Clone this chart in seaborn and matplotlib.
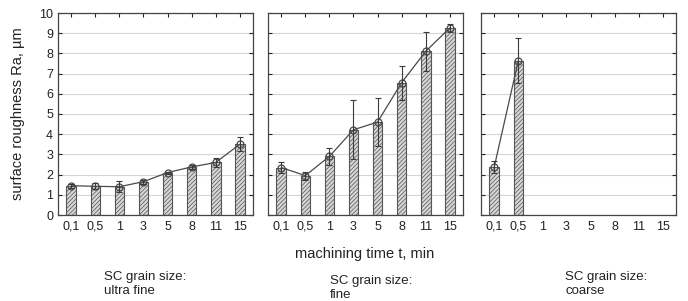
import numpy as np
import pandas as pd
import seaborn as sns
import matplotlib.pyplot as plt

times = ['0,1', '0,5', '1', '3', '5', '8', '11', '15']

ultra_fine_mean = [1.45, 1.42, 1.40, 1.65, 2.10, 2.38, 2.60, 3.50]
ultra_fine_err = [0.10, 0.15, 0.28, 0.10, 0.05, 0.08, 0.20, 0.35]

fine_mean = [2.35, 1.95, 2.90, 4.22, 4.60, 6.55, 8.10, 9.26]
fine_err = [0.28, 0.20, 0.40, 1.45, 1.20, 0.85, 0.95, 0.20]

coarse_times = ['0,1', '0,5']
coarse_mean = [2.38, 7.64]
coarse_err = [0.30, 1.10]

captions = ['SC grain size:\nultra fine', 'SC grain size:\nfine', 'SC grain size:\ncoarse']

sns.set_style('white')
plt.rcParams['font.family'] = ['Liberation Sans', 'DejaVu Sans']
plt.rcParams['hatch.color'] = '#a9a9a9'
plt.rcParams['hatch.linewidth'] = 0.5

fig = plt.figure(figsize=(6.88, 3.01), dpi=100)
lefts = [58 / 688, 268 / 688, 481 / 688]
width = 195 / 688
bottom = 1 - 215 / 301
height = 202 / 301

panels = [
    (times, ultra_fine_mean, ultra_fine_err),
    (times, fine_mean, fine_err),
    (coarse_times, coarse_mean, coarse_err),
]

for i, (t, m, e) in enumerate(panels):
    ax = fig.add_axes([lefts[i], bottom, width, height])
    df = pd.DataFrame({'time': t, 'Ra': m, 'err': e})

    ax.set_axisbelow(True)
    ax.yaxis.grid(True, color='#d4d4d4', linewidth=0.8)

    # hatched bars
    sns.barplot(data=df, x='time', y='Ra', order=times, ax=ax, width=0.4,
                color='#d6d6d6', edgecolor='#555555', linewidth=0.8,
                hatch='////////', errorbar=None, saturation=1)

    pos = [times.index(v) for v in t]
    ax.errorbar(pos, m, yerr=e, fmt='none', ecolor='#3a3a3a',
                elinewidth=0.8, capsize=2.5, capthick=0.8, zorder=4)
    sns.pointplot(data=df, x='time', y='Ra', order=times, ax=ax,
                  color='#4a4a4a', errorbar=None, markers='o',
                  markersize=5, markerfacecolor='none', linewidth=0.9,
                  markeredgewidth=0.9)
    for coll in ax.collections:
        coll.set_zorder(5)

    ax.set_ylim(0, 10)
    ax.set_yticks(range(0, 11))
    ax.set_xlim(-0.55, len(times) - 0.45)
    ax.set_xlabel('')
    ax.set_ylabel('')
    ax.tick_params(axis='x', bottom=False, top=True, direction='in',
                   length=3, labelsize=9, pad=4, colors='#222222')
    ax.tick_params(axis='y', left=True, right=True, direction='in',
                   length=3, labelsize=9, colors='#222222')
    if i > 0:
        ax.tick_params(axis='y', labelleft=False)
    for s in ax.spines.values():
        s.set_color('#444444')
        s.set_linewidth(0.9)

fig.text(18 / 688, 1 - 114 / 301, 'surface roughness Ra, µm', rotation=90,
         ha='center', va='center', fontsize=10.5, color='#222222')
fig.text(365 / 688, 1 - 254 / 301, 'machining time t, min',
         ha='center', va='center', fontsize=10.5, color='#222222')
cap_pos = [(104, 284), (330, 288), (565, 284)]
for (cx, cy), c in zip(cap_pos, captions):
    fig.text(cx / 688, 1 - cy / 301, c, ha='left', va='center',
             fontsize=9.5, color='#222222', linespacing=1.3)

fig.savefig('out.png', dpi=100)
